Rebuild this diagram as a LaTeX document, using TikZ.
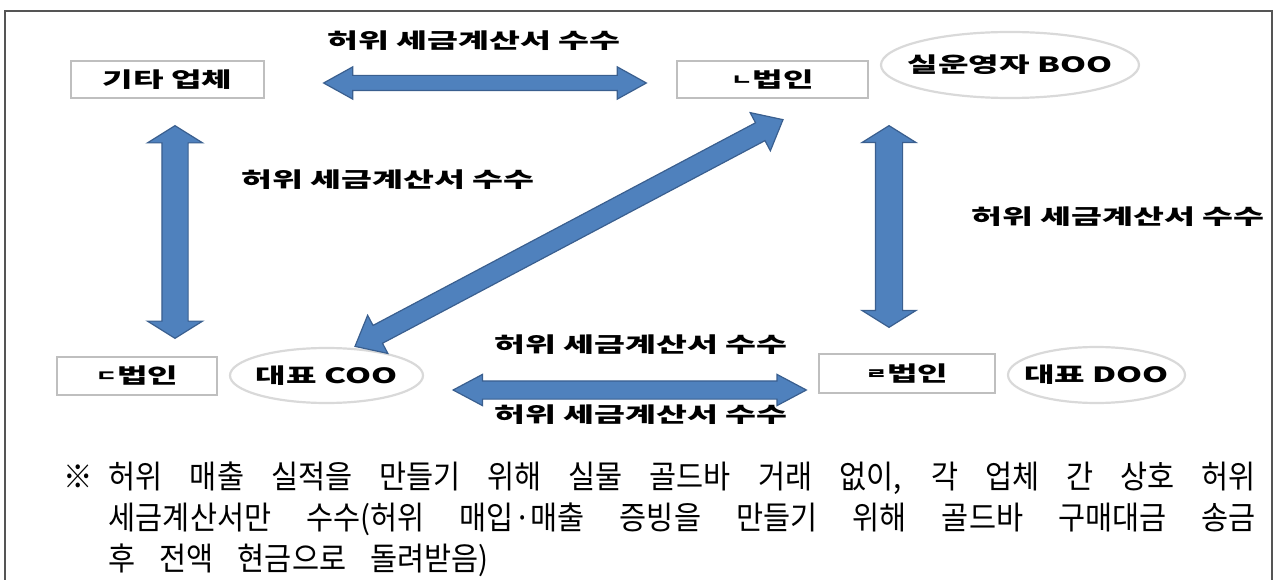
\documentclass[tikz,border=0pt]{standalone}
\usepackage{fontspec}
\newfontfamily\lblfont[WordSpace=3]{Noto Sans CJK KR}
\newfontfamily\notefont{Noto Sans CJK KR}
\usetikzlibrary{positioning, shapes.geometric, shapes.arrows, calc}

\definecolor{arrowfill}{HTML}{4F81BD}
\definecolor{arrowedge}{HTML}{3A5F8F}
\definecolor{boxedge}{HTML}{BFBFBF}
\definecolor{ovaledge}{HTML}{D9D9D9}
\definecolor{frameline}{HTML}{555555}

\newcommand{\fatarrow}[3][]{%
    \path let \p1=($(#3)-(#2)$), \n1={veclen(\x1,\y1)}, \n2={atan2(\y1,\x1)} in
        node[fat, #1, minimum height=\n1, rotate=\n2] at ($(#2)!0.5!(#3)$) {};
}
\newcommand{\wide}[2][1.3]{\scalebox{#1}[1]{#2}}
\newcommand{\jamo}[1]{\raisebox{2pt}{\fontsize{15}{15}\selectfont #1}}
\newcommand{\noteline}[1]{\scalebox{0.92}[1]{\makebox[1247pt][s]{\spaceskip=16pt plus 1fil #1}}}

\begin{document}
\begin{tikzpicture}[
    x=1pt, y=-1pt,
    box/.style={
        draw=boxedge,
        line width=1.3pt,
        inner sep=0pt,
        font={\lblfont\bfseries\fontsize{21}{24}\selectfont}
    },
    oval/.style={
        ellipse,
        draw=ovaledge,
        line width=2.2pt,
        inner sep=0pt,
        font={\lblfont\bfseries\fontsize{21}{24}\selectfont}
    },
    lbl/.style={font={\lblfont\bfseries\fontsize{21}{24}\selectfont}, inner sep=0pt},
    note/.style={
        anchor=north west,
        align=left,
        inner sep=0pt,
        font={\notefont\fontsize{32}{41}\selectfont\spaceskip=26pt}
    },
    fat/.style={
        double arrow,
        draw=arrowedge,
        fill=arrowfill,
        line width=1.2pt,
        inner xsep=0pt
    }
]

    \useasboundingbox (0,0) rectangle (1275,580);
    \draw[frameline, line width=1.5pt] (5,580) -- (5,11) -- (1272,11) -- (1272,580);

    \node[box, minimum width=193, minimum height=37] (gita) at (167.5,79.5) {\wide[1.58]{기타 업체}};
    \node[box, minimum width=191, minimum height=37] (nbub) at (772.5,79.5) {\wide[1.58]{\jamo{ㄴ}법인}};
    \node[oval, minimum width=258, minimum height=66] (boo) at (1010,65) {\makebox[0pt]{\wide[1.58]{실운영자 BOO}}};
    \node[box, minimum width=160, minimum height=38] (dbub) at (137,376) {\wide[1.58]{\jamo{ㄷ}법인}};
    \node[oval, minimum width=193, minimum height=55] (coo) at (326.5,375.5) {\makebox[0pt]{\wide[1.58]{대표 COO}}};
    \node[box, minimum width=176, minimum height=39] (rbub) at (907,373.5) {\wide[1.58]{\jamo{ㄹ}법인}};
    \node[oval, minimum width=177, minimum height=56] (doo) at (1096.5,375) {\makebox[0pt]{\wide[1.58]{대표 DOO}}};

    \node[lbl] (lbtop) at (474,41) {\wide[1.6]{허위 세금계산서 수수}};
    \node[lbl] (lbleft) at (388,180) {\wide[1.6]{허위 세금계산서 수수}};
    \node[lbl] (lbright) at (1118,217) {\wide[1.6]{허위 세금계산서 수수}};
    \node[lbl] (lbmid) at (641,345) {\wide[1.6]{허위 세금계산서 수수}};
    \node[lbl] (lbbot) at (641,415) {\wide[1.6]{허위 세금계산서 수수}};

    \coordinate (ga) at ($(gita.east)+(59,3.5)$);
    \coordinate (nw) at ($(nbub.west)+(-30,3.5)$);
    \coordinate (gs) at ($(gita.south)+(7.5,27)$);
    \coordinate (dn) at ($(dbub.north)+(38,-18)$);
    \coordinate (ns) at ($(nbub.south)+(116.5,27)$);
    \coordinate (rn) at ($(rbub.north)+(-18,-26)$);
    \coordinate (nd) at ($(nbub.south)+(10.5,21)$);
    \coordinate (cd) at ($(coo.north)+(28.5,-0.5)$);
    \coordinate (ce) at ($(coo.east)+(29,14.5)$);
    \coordinate (rw) at ($(rbub.west)+(-12,16.5)$);

    \fatarrow[inner ysep=7pt, double arrow head extend=8.5pt, double arrow tip angle=58]{ga}{nw}
    \fatarrow[inner ysep=12.5pt, double arrow head extend=14.5pt, double arrow tip angle=116]{gs}{dn}
    \fatarrow[inner ysep=13pt, double arrow head extend=13.5pt, double arrow tip angle=116]{ns}{rn}
    \fatarrow[inner ysep=9.5pt, double arrow head extend=11.5pt, double arrow tip angle=80]{nd}{cd}
    \fatarrow[inner ysep=8.5pt, double arrow head extend=6.5pt, double arrow tip angle=56]{ce}{rw}

    \node[note] (memo) at (63,462) {\scalebox{0.92}[1]{\makebox[49.6pt][l]{※}}\noteline{허위 매출 실적을 만들기 위해 실물 골드바 거래 없이, 각 업체 간 상호 허위}\\
        \hspace*{45.6pt}\noteline{세금계산서만 수수(허위 매입·매출 증빙을 만들기 위해 골드바 구매대금 송금}\\
        \hspace*{45.6pt}\scalebox{0.92}[1]{후 전액 현금으로 돌려받음)}};

\end{tikzpicture}
\end{document}
